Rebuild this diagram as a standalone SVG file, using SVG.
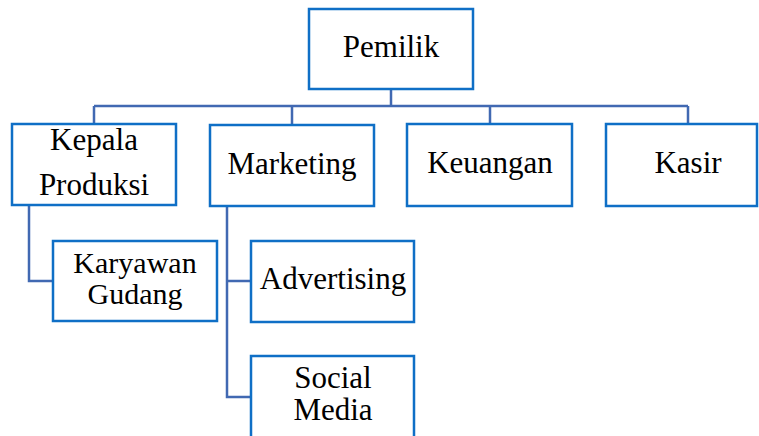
<svg xmlns="http://www.w3.org/2000/svg" width="759" height="436" viewBox="0 0 759 436">
<style>
.box{fill:#fff;stroke:#0F6FC6;stroke-width:2.5}
.con{fill:none;stroke:#4169B2;stroke-width:2.5}
</style>
<rect width="759" height="436" fill="#fff"/>
<g id="connectors">
<path class="con" d="M391 89V106M94 106H688M94 106V124M292 106V124M490 106V124M688 106V124"/>
<path class="con" d="M29 205V281H53"/>
<path class="con" d="M227 206V397H251M227 281H251"/>
</g>
<g font-family="Liberation Serif, Times New Roman, serif" font-size="31" fill="#000" text-anchor="middle">
<g id="pemilik"><rect class="box" x="309" y="9" width="164" height="80"/><text x="391" y="57">Pemilik</text></g>
<g id="kepala-produksi"><rect class="box" x="12" y="124" width="164" height="81"/><text x="94" y="150">Kepala</text><text x="94" y="195">Produksi</text></g>
<g id="marketing"><rect class="box" x="210" y="125" width="164" height="81"/><text x="292" y="174">Marketing</text></g>
<g id="keuangan"><rect class="box" x="407" y="124" width="165" height="82"/><text x="490" y="173">Keuangan</text></g>
<g id="kasir"><rect class="box" x="606" y="124" width="151" height="82"/><text x="688" y="173">Kasir</text></g>
<g id="karyawan-gudang"><rect class="box" x="53" y="241" width="164" height="80"/><text x="135" y="273" font-size="30">Karyawan</text><text x="135" y="304" font-size="30">Gudang</text></g>
<g id="advertising"><rect class="box" x="251" y="241" width="163" height="81"/><text x="333" y="289">Advertising</text></g>
<g id="social-media"><path class="box" d="M251 440V356H414V440"/><text x="333" y="388">Social</text><text x="333" y="420">Media</text></g>
</g>
</svg>
